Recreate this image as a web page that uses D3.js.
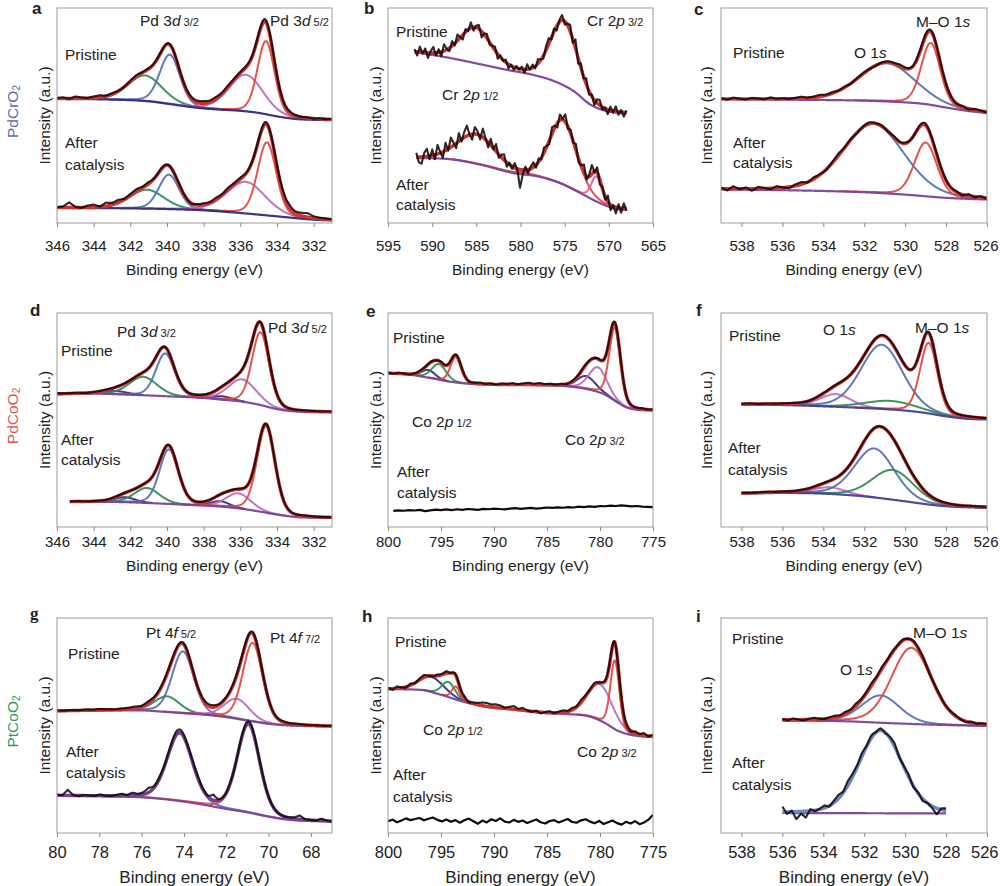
<!DOCTYPE html>
<html><head><meta charset="utf-8">
<script src="https://cdn.jsdelivr.net/npm/d3@7/dist/d3.min.js"></script>
<style>
html,body{margin:0;padding:0;background:#fff;}
text{font-family:"Liberation Sans",Arial,Helvetica,sans-serif;fill:#222;}
</style></head><body>
<svg id="fig" width="1000" height="886"></svg>
<script>
// ---------------- axes / categories ----------------
const domPd3d=[346,331], ticksPd3d=[346,344,342,340,338,336,334,332];
const domCr2p=[595,565], ticksCr2p=[595,590,585,580,575,570,565];
const domO1s=[539,526],  ticksO1s=[538,536,534,532,530,528,526];
const domCo2p=[800,775], ticksCo2p=[800,795,790,785,780,775];
const domPt4f=[80,67],   ticksPt4f=[80,78,76,74,72,70,68];
const rowSamples=["PdCrO","PdCoO","PtCoO"];
const panelLetters=["a","b","c","d","e","f","g","h","i"];
const stateLabels=["Pristine","After","catalysis"];
const xTitle="Binding energy (eV)", yTitle="Intensity (a.u.)";

// peaks: [centre eV, height (a.u., % of frame), FWHM eV]; backgrounds: [eV, a.u.]
// ---- a  PdCrO2 Pd 3d ----
const aPriRange=[346,331];
const aPriBg=[[346,57.7],[343,57.4],[341,56.6],[340,55.5],[339,54.3],[338,53.3],[337,52.7],[336,52.2],[335,51.2],[334,49.6],[333,48.4],[331,47.8]];
const aPriPeaks=[[341.2,11.9,2.2],[339.85,23.0,1.3],[335.7,17.0,2.2],[334.6,34.0,1.1]];
const aPriNoise=[0.2,0.5,-0.2,0.9,0.4,0.1,0.7,1.0,0.3,0.6,0.2,-0.1,0.4,0.6,0.2,0.5,0.3,0.1,0.4,0.2,0.0,0.3,0.6,0.9,1.1,0.8,1.0,0.7,0.9,0.5,0.6,0.8,0.5,0.9,1.2,0.8,0.4,0.2,0.5,0.3,0.1,0.3,-0.1,0.2,0.0,0.2];
const aAftRange=[346,331];
const aAftBg=[[346,7.0],[342,6.8],[340,6.5],[338,5.9],[336,4.65],[334,3.1],[332,1.55],[331,1.2]];
const aAftPeaks=[[341.1,8.8,2.2],[339.9,16.0,1.3],[335.7,14.7,2.5],[334.55,34.0,1.2]];
const aAftNoise=[0.2,0.5,2.4,0.3,-0.2,0.8,1.2,0.1,1.6,0.9,1.3,0.4,0.8,1.1,0.5,0.9,0.2,0.6,0.3,-0.2,0.4,0.1,-0.3,0.5,0.7,0.4,0.9,0.5,1.0,0.6,0.8,0.4,0.2,0.5,1.0,0.4,0.6,1.2,1.6,1.0,1.4,1.9,0.8,0.5,0.3,0.1];
// ---- b  PdCrO2 Cr 2p ----
const bPriRange=[592,568];
const bPriBg=[[591.7,79.3],[588.3,77.0],[584.5,73.8],[581.5,71.2],[578.9,69.2],[576.2,66.0],[574.0,61.4],[572.1,55.1],[570.2,52.0],[568,50.9]];
const bPriPeaks=[[585.1,16.5,4.2],[575.1,30.0,3.6]];
const bPriNoise=[1.2,-1.8,2.5,-0.6,1.9,-2.4,0.8,2.8,-1.2,1.5,-2.0,3.1,0.4,-1.5,2.2,-0.9,2.9,0.3,-2.2,1.4,-0.7,2.6,-1.6,0.9,1.8,-2.8,0.5,2.0,-1.1,0.2,1.6,-2.3,0.8,-0.5,1.3,-1.9,0.6,-1.2,0.9,-0.4,1.1,-1.6,2.3,-0.3,1.5,-1.0,2.1,0.4,-1.3,1.8,2.9,-0.8,1.4,-2.1,0.9,2.4,-1.5,0.6,3.0,-1.7,4.2,-2.6,1.9,-0.9,2.7,-1.8,0.7,-2.4,1.6,2.5,-1.2,0.4,-2.2,1.7,-0.8,2.3,-1.4,0.9,-2.0,1.1];
const bAftRange=[591.8,568];
const bAftBg=[[591.8,30.2],[588.3,29.8],[584.5,27.1],[580.8,23.2],[578.1,21.7],[575.5,18.5],[573.2,13.9],[571.4,10.0],[569.5,6.9],[568,6.1]];
const bAftPeaks=[[585.0,13.6,5.0],[575.2,29.8,3.6],[571.4,11.6,1.4]];
const bAftNoise=[2.0,-2.5,-3.2,1.8,3.5,-1.5,2.8,-2.0,4.2,0.5,-2.8,3.6,-0.8,4.5,1.2,-2.2,3.8,-1.0,2.5,4.8,0.2,-2.6,3.2,1.5,-1.8,4.0,0.8,-2.4,2.9,-0.5,3.4,-1.6,1.2,2.6,-2.0,0.8,-1.2,2.1,-0.6,-8.5,-2.2,1.5,-1.8,0.9,2.2,-1.4,1.6,-0.8,2.4,0.5,-1.6,3.1,1.0,-2.0,2.6,0.2,3.5,-1.1,1.8,-0.6,2.9,-1.8,0.6,3.8,-1.5,1.2,4.2,-0.8,2.5,-2.2,1.0,-1.5,2.8,-2.6,0.4,-3.0,1.6,-2.2,2.4,-1.0];
// ---- c  PdCrO2 O 1s ----
const cPriRange=[539,526];
const cPriBg=[[539,57.6],[535,57.3],[532,56.9],[530,56.1],[529,55.3],[528,53.7],[527,52.2],[526,51.1]];
const cPriPeaks=[[530.9,17.8,3.2],[528.75,28.8,1.1]];
const cPriNoise=[0.3,-0.4,0.6,0.1,-0.3,0.5,0.2,-0.2,0.7,0.1,0.3,-0.1,0.4,0.8,0.2,0.5,0.9,0.3,0.6,0.1,0.4,-0.2,0.3,0.5,0.1,-0.3,0.2,0.6,0.4,0.9,0.5,0.2,0.8,1.1,0.6,0.3,0.5,0.2,-0.2,0.3,-0.4,0.5,0.1,-0.3];
const cAftRange=[539,526];
const cAftBg=[[539,15.6],[535,15.1],[532,14.3],[530,13.2],[528,11.7],[526,10.9]];
const cAftPeaks=[[531.55,32.0,3.5],[529.0,25.0,1.3]];
const cAftNoise=[0.5,-0.8,1.2,-0.3,0.6,-1.0,0.8,0.2,-0.5,0.9,0.1,-0.6,0.7,1.1,-0.2,0.8,0.3,-0.4,0.6,1.0,0.2,0.5,-0.3,0.4,0.7,0.1,0.3,-0.2,0.5,0.2,0.4,-0.1,0.6,0.9,0.3,0.7,0.4,0.1,0.6,-0.5,0.8,-0.3,0.5,-0.6];
// ---- d  PdCoO2 Pd 3d ----
const dPriRange=[346,331];
const dPriBg=[[346,62.1],[344,62.3],[342,61.8],[340,61.1],[338,60.3],[337,59.5],[336,58.7],[335,57.2],[334,55.1],[333,54.0],[331,53.6]];
const dPriPeaks=[[342.8,1.5,1.5],[341.3,8.6,1.8],[340.1,20.0,1.2],[337.0,1.6,1.2],[335.9,10.4,1.8],[334.9,34.0,1.1]];
const dPriNoise=[0.2,0.1,0.3,0.0,0.2,0.3,0.1,0.2,0.0,0.1,0.3,0.2,0.1,0.2,0.0,0.1,0.2,0.3,0.1,0.0,0.2,0.1,0.3,0.2,0.1,0.0,0.2,0.1,0.0,0.1];
const dAftRange=[345.3,331];
const dAftBg=[[345.3,11.7],[343,11.7],[341,11.2],[339,10.4],[337,9.5],[336,8.6],[335,7.3],[334,5.8],[333,4.7],[331,4.2]];
const dAftPeaks=[[342.3,2.3,1.3],[341.1,7.0,1.6],[339.9,25.5,1.2],[337.1,2.5,1.2],[336.1,7.0,1.6],[334.6,40.5,1.15]];
const dAftNoise=[0.1,0.2,0.0,0.2,0.1,0.3,0.1,0.0,0.2,0.1,0.2,0.3,0.1,0.0,0.1,0.2,0.1,0.0,0.2,0.3,0.1,0.2,0.0,0.1,0.2,0.1,0.3,0.1,0.0,0.1];
// ---- e  PdCoO2 Co 2p ----
const ePriRange=[800,775];
const ePriBg=[[800,71.8],[798,71.2],[796,69.6],[794,67.8],[792,66.8],[790,66.5],[785,66.2],[783,65.7],[781,64.2],[779.5,61.8],[778.5,58.7],[777.5,55.9],[776.5,54.8],[775,54.4]];
const ePriPeaks=[[796.2,3.6,1.5],[795.2,7.3,1.6],[793.6,12.0,1.2],[781.3,6.0,2.0],[780.2,11.5,2.0],[778.6,34.0,1.25]];
const ePriNoise=[0.3,-0.2,0.4,0.1,-0.3,0.2,0.5,0.0,0.3,-0.2,0.4,0.2,0.1,0.5,0.2,-0.1,0.3,0.6,0.1,0.4,-0.2,0.5,0.3,0.7,0.2,0.6,0.9,0.4,0.8,0.3,0.5,0.1,0.4,-0.1,0.3,0.2,0.5,0.3,0.1,0.4,0.2,0.6,0.3,0.5,0.2,0.3,0.1,0.4,0.0,0.2];
const eAftRange=[799.5,775];
const eAftData=[7.5,7.8,7.6,7.9,7.7,8.0,7.4,7.8,8.1,7.9,8.2,7.9,8.3,8.0,8.4,8.2,8.0,8.5,8.3,8.6,8.4,8.2,8.6,8.8,8.5,8.7,8.9,8.6,8.8,9.1,8.9,9.2,9.0,9.3,9.1,9.5,9.3,9.6,9.4,9.8,9.7,10.0,9.8,10.1,9.9,9.6,9.8,9.5,9.4,9.3];
// ---- f  PdCoO2 O 1s ----
const fPriRange=[538,526];
const fPriBg=[[538,57.2],[536,57.0],[534,56.4],[532,55.6],[530,54.4],[529,53.3],[528,51.7],[527,50.6],[526,50.2]];
const fPriPeaks=[[533.4,5.9,1.8],[531.15,30.0,2.4],[530.7,4.0,3.0],[528.85,33.0,1.0]];
const fPriNoise=[0.1,0.3,0.0,0.2,0.1,0.2,0.3,0.1,0.0,0.2,0.1,0.3,0.2,0.1,0.2,0.0,0.1,0.3,0.2,0.1,0.0,0.2,0.3,0.1,0.2,0.0,0.1,0.2,0.1,0.0];
const fAftRange=[538,526];
const fAftBg=[[538,15.6],[536,15.9],[534,15.6],[532,14.3],[530,12.0],[529,10.7],[528,9.7],[526,8.9]];
const fAftPeaks=[[533.7,3.1,1.8],[531.5,22.9,2.3],[530.6,13.9,2.4]];
const fAftNoise=[0.2,0.0,0.1,0.3,0.1,0.2,0.0,0.2,0.1,0.3,0.2,0.0,0.1,0.2,0.3,0.1,0.2,0.0,0.1,0.2,0.1,0.3,0.0,0.1,0.2,0.1,0.0,0.2,0.1,0.2];
// ---- g  PtCoO2 Pt 4f ----
const gPriRange=[80,67];
const gPriBg=[[80,56.7],[77,57.0],[76,57.0],[75,56.4],[74,55.7],[73,55.0],[72,53.9],[71,52.3],[70,50.8],[69,50.0],[67,49.5]];
const gPriPeaks=[[74.8,7.3,1.4],[74.05,28.7,1.2],[71.5,9.3,1.4],[70.75,36.5,1.1]];
const gPriNoise=[0.2,0.0,0.3,0.1,0.4,0.2,0.5,0.3,0.1,0.4,0.6,0.9,0.4,1.0,0.5,0.7,0.8,0.4,0.6,0.3,0.2,0.9,1.1,0.5,0.4,0.6,0.8,0.5,0.7,0.3,0.1,0.2,0.4,0.1,0.3,0.2,0.0,0.1,-0.1,0.2];
const gAftRange=[80,67];
const gAftBg=[[80,17.4],[77,16.9],[76,16.6],[75,15.8],[74,14.6],[73,13.0],[72,11.2],[71,9.6],[70,7.6],[69,6.1],[67,5.3]];
const gAftPeaks=[[74.2,31.5,1.4],[70.95,41.0,1.25]];
const gAftNoise=[0.3,0.1,2.6,0.2,-0.3,0.2,0.1,-0.2,0.6,0.0,-0.2,0.4,0.9,0.3,1.3,0.6,1.0,2.2,0.8,0.9,0.5,1.0,1.6,1.4,0.8,0.9,1.2,0.6,0.4,2.6,0.5,0.3,0.4,0.2,0.5,1.0,1.3,0.6,0.4,0.3,0.2,0.1,0.0,0.2,0.6,1.8,0.3,0.1,-0.2,0.9,0.2,-0.4];
// ---- h  PtCoO2 Co 2p ----
const hPriRange=[800,775];
const hPriBg=[[800,66.9],[797,66.6],[795,64.3],[793,61.2],[791,58.9],[788,57.3],[785,55.7],[783,55.3],[781,54.2],[779.5,51.1],[778.5,48.0],[777.5,46.1],[776,44.9],[775,44.6]];
const hPriPeaks=[[795.9,7.0,2.8],[794.3,7.0,1.5],[793.6,6.0,0.9],[780.0,16.8,2.8],[778.6,32.0,1.0]];
const hPriNoise=[0.5,-0.6,0.9,0.2,-0.4,0.8,-0.2,0.6,1.1,0.1,-0.5,0.7,0.3,1.0,-0.2,0.6,0.2,0.9,-0.3,0.4,0.8,1.4,1.6,1.2,1.5,1.2,0.3,0.9,1.5,0.4,1.1,0.2,-0.3,0.5,-0.6,0.2,0.7,-0.2,0.4,0.9,0.3,1.0,0.5,1.3,0.6,0.2,0.8,-0.1,0.5,0.9,0.3,-0.2,0.6,0.4,-0.5,0.8,0.2,1.1,-0.3,0.7];
const hAftRange=[800,775];
const hAftData=[5.5,6.2,5.0,5.8,6.8,6.0,6.5,7.0,5.9,6.6,7.2,6.1,5.4,6.3,5.2,6.0,4.8,5.9,6.7,5.5,4.3,5.8,4.9,6.4,5.6,6.8,5.3,4.9,6.1,5.2,5.8,4.6,5.5,6.3,5.0,4.4,5.6,6.0,4.9,5.7,6.5,5.1,4.8,5.9,6.4,5.3,4.5,5.6,4.2,5.0,5.8,4.6,3.9,5.2,4.4,5.5,4.1,4.9,6.2,8.5];
// ---- i  PtCoO2 O 1s ----
const iPriRange=[536,526];
const iPriBg=[[536,52.3],[533,52.0],[531,51.2],[529,50.5],[527,50.0],[526,49.8]];
const iPriPeaks=[[531.2,12.7,2.2],[529.7,35.4,2.3]];
const iPriNoise=[0.4,-0.3,0.6,0.1,-0.4,0.3,0.7,0.2,-0.2,0.5,0.8,0.3,0.9,0.4,1.2,0.6,0.8,1.3,0.5,1.0,0.3,0.7,0.2,0.5,-0.2,0.4,0.1,0.3,-0.3,0.2,0.5,-0.1,0.3,0.6,0.0,-0.4,0.5,-0.2,0.3,0.1];
const iAftRange=[536,528];
const iAftBg=[[536,9.3],[528,9.1]];
const iAftPeaks=[[531.2,38.5,2.5]];
const iAftNoise=[2.5,-1.0,0.5,-3.5,-1.0,-3.0,0.8,-0.5,0.3,1.2,-0.4,1.0,1.8,0.6,2.2,1.5,0.9,1.7,0.4,1.3,0.2,1.0,-0.4,0.7,1.6,-0.3,0.5,1.2,-0.6,0.4,-1.0,0.2,-0.8,-2.8,0.6,1.0];

// ---------------- layout & style ----------------
const colsX=[[57,332],[388,653],[721,987]];
const rowsY=[[8,223],[313,527],[618,833]];
const tickLabY=[245,541,852], titleY=[269,565,877];
const axisFs=[15,15,16.5], titleFs=[15.5,15.5,17];
const FS=15.5, SMALL=11;
const C={navy:'#2c2d84',purple:'#7c4199',deep:'#4b3d94',blue:'#5070b6',green:'#2e8c52',lilac:'#b46cc2',red:'#e2453d',pink:'#d75aa8',env:'#d0342f',data:'#140909'};
const ETA=0.2;

function pv(t,p){const d=(t-p[0])/p[2];const q=4*d*d;return p[1]*(ETA/(1+q)+(1-ETA)*Math.exp(-Math.LN2*q));}
function mono(pts){
  const p=pts.slice().sort((a,b)=>a[0]-b[0]);const n=p.length;const xs=p.map(d=>d[0]),ys=p.map(d=>d[1]);
  if(n<2)return()=>ys[0];
  const dx=[],m=[];for(let i=0;i<n-1;i++){dx[i]=xs[i+1]-xs[i];m[i]=(ys[i+1]-ys[i])/dx[i];}
  const t=new Array(n);t[0]=m[0];t[n-1]=m[n-2];
  for(let i=1;i<n-1;i++){t[i]=(m[i-1]*m[i]<=0)?0:(m[i-1]+m[i])/2;}
  for(let i=0;i<n-1;i++){if(m[i]===0){t[i]=0;t[i+1]=0;}else{const a=t[i]/m[i],b=t[i+1]/m[i],s=a*a+b*b;if(s>9){const tau=3/Math.sqrt(s);t[i]=tau*a*m[i];t[i+1]=tau*b*m[i];}}}
  return x=>{if(x<=xs[0])return ys[0];if(x>=xs[n-1])return ys[n-1];let i=Math.min(d3.bisectRight(xs,x)-1,n-2);const h=dx[i],s=(x-xs[i])/h;
    const h00=2*s*s*s-3*s*s+1,h10=s*s*s-2*s*s+s,h01=-2*s*s*s+3*s*s,h11=s*s*s-s*s;return h00*ys[i]+h10*h*t[i]+h01*ys[i+1]+h11*h*t[i+1];};
}

const P=(s,x,y)=>({parts:[[s,'']],x,y});
const K=(a,b,c,x,y)=>({parts:[[a,''],[b,'i'],[c,'s']],x,y});
const panels=[
 {dom:domPd3d,ticks:ticksPd3d,bgc:C.navy,spectra:[
   {range:aPriRange,bg:aPriBg,peaks:aPriPeaks,cols:['green','blue','lilac','red'],noise:aPriNoise},
   {range:aAftRange,bg:aAftBg,peaks:aAftPeaks,cols:['green','blue','lilac','red'],noise:aAftNoise}],
  notes:[P(stateLabels[0],65,55),P(stateLabels[1],65,143),P(stateLabels[2],65,165),K('Pd 3','d',' 3/2',140,21),K('Pd 3','d',' 5/2',270,21)]},
 {dom:domCr2p,ticks:ticksCr2p,bgc:C.purple,spectra:[
   {range:bPriRange,bg:bPriBg,peaks:bPriPeaks,cols:['red','red'],noise:bPriNoise,noComp:true},
   {range:bAftRange,bg:bAftBg,peaks:bAftPeaks,cols:['red','red','pink'],noise:bAftNoise}],
  notes:[P(stateLabels[0],396,32),P(stateLabels[1],396,185),P(stateLabels[2],396,205),K('Cr 2','p',' 3/2',587,21),K('Cr 2','p',' 1/2',442,95)]},
 {dom:domO1s,ticks:ticksO1s,bgc:C.purple,spectra:[
   {range:cPriRange,bg:cPriBg,peaks:cPriPeaks,cols:['blue','red'],noise:cPriNoise},
   {range:cAftRange,bg:cAftBg,peaks:cAftPeaks,cols:['blue','red'],noise:cAftNoise}],
  notes:[P(stateLabels[0],733,53),P(stateLabels[1],733,143),P(stateLabels[2],733,163),K('O 1','s','',854,53),K('M–O 1','s','',916,22)]},
 {dom:domPd3d,ticks:ticksPd3d,bgc:C.purple,spectra:[
   {range:dPriRange,bg:dPriBg,peaks:dPriPeaks,cols:['navy','green','blue','navy','lilac','red'],noise:dPriNoise},
   {range:dAftRange,bg:dAftBg,peaks:dAftPeaks,cols:['navy','green','blue','navy','lilac','red'],noise:dAftNoise}],
  notes:[P(stateLabels[0],61,351),P(stateLabels[1],61,440),P(stateLabels[2],61,460),K('Pd 3','d',' 3/2',117,332),K('Pd 3','d',' 5/2',268,328)]},
 {dom:domCo2p,ticks:ticksCo2p,bgc:C.purple,spectra:[
   {range:ePriRange,bg:ePriBg,peaks:ePriPeaks,cols:['navy','green','red','navy','lilac','red'],noise:ePriNoise},
   {range:eAftRange,data:eAftData}],
  notes:[P(stateLabels[0],393,338),P(stateLabels[1],397,472),P(stateLabels[2],397,493),K('Co 2','p',' 1/2',412,422),K('Co 2','p',' 3/2',565,440)]},
 {dom:domO1s,ticks:ticksO1s,bgc:C.deep,spectra:[
   {range:fPriRange,bg:fPriBg,peaks:fPriPeaks,cols:['lilac','blue','green','red'],noise:fPriNoise},
   {range:fAftRange,bg:fAftBg,peaks:fAftPeaks,cols:['lilac','blue','green'],noise:fAftNoise}],
  notes:[P(stateLabels[0],729,336),P(stateLabels[1],728,448),P(stateLabels[2],728,470),K('O 1','s','',823,330),K('M–O 1','s','',915,328)]},
 {dom:domPt4f,ticks:ticksPt4f,bgc:C.purple,spectra:[
   {range:gPriRange,bg:gPriBg,peaks:gPriPeaks,cols:['green','blue','lilac','red'],noise:gPriNoise},
   {range:gAftRange,bg:gAftBg,peaks:gAftPeaks,cols:['blue','red'],noise:gAftNoise,env:'#74408f'}],
  notes:[P(stateLabels[0],68,654),P(stateLabels[1],66,752),P(stateLabels[2],66,773),K('Pt 4','f',' 5/2',146,633),K('Pt 4','f',' 7/2',270,638)]},
 {dom:domCo2p,ticks:ticksCo2p,bgc:C.purple,spectra:[
   {range:hPriRange,bg:hPriBg,peaks:hPriPeaks,cols:['navy','green','red','lilac','red'],noise:hPriNoise},
   {range:hAftRange,data:hAftData}],
  notes:[P(stateLabels[0],395,642),P(stateLabels[1],393,775),P(stateLabels[2],393,797),K('Co 2','p',' 1/2',423,730),K('Co 2','p',' 3/2',577,752)]},
 {dom:domO1s,ticks:ticksO1s,bgc:C.purple,spectra:[
   {range:iPriRange,bg:iPriBg,peaks:iPriPeaks,cols:['blue','red'],noise:iPriNoise},
   {range:iAftRange,bg:iAftBg,peaks:iAftPeaks,cols:['blue'],noise:iAftNoise,noComp:true,env:'#6a88c9'}],
  notes:[P(stateLabels[0],732,639),P(stateLabels[1],732,763),P(stateLabels[2],732,785),K('O 1','s','',840,670),K('M–O 1','s','',913,633)]}
];
const letterPos=[[32,14],[364,14],[694,15],[30,316],[366,317],[696,316],[30,619],[362,622],[696,622]];
const rowLabelColors=['#5a6bb2','#e0574d','#2f9a5c'];
const intensityX=[44,375,706];

const svg=d3.select('#fig');
const defs=svg.append('defs');

function richText(g,parts,x,yc,size){
  const t=g.append('text').attr('x',x).attr('y',yc+size*0.35).attr('font-size',size);
  parts.forEach(([s,st])=>{if(!s)return;const ts=t.append('tspan').text(s);
    if(st==='i')ts.attr('font-style','italic');
    if(st==='s')ts.attr('font-size',SMALL);});
  return t;
}

panels.forEach((pn,k)=>{
  const r=Math.floor(k/3),c=k%3;
  const [x0,x1]=colsX[c],[y0,y1]=rowsY[r];
  const x=d3.scaleLinear().domain(pn.dom).range([x0,x1]);
  const y=d3.scaleLinear().domain([0,100]).range([y1,y0]);
  const g=svg.append('g');
  const cid='clip'+k;
  defs.append('clipPath').attr('id',cid).append('rect').attr('x',x0).attr('y',y0).attr('width',x1-x0).attr('height',y1-y0);
  const plot=g.append('g').attr('clip-path',`url(#${cid})`);
  const line=d3.line().x(d=>x(d[0])).y(d=>y(d[1]));

  pn.spectra.forEach(s=>{
    const [r0,r1]=s.range;const lo=Math.min(r0,r1),hi=Math.max(r0,r1);
    if(s.data){
      const pts=s.data.map((v,i)=>[r0+(r1-r0)*i/(s.data.length-1),v]);
      plot.append('path').datum(pts).attr('d',line).attr('fill','none').attr('stroke',C.data).attr('stroke-width',2.2).attr('stroke-linejoin','round');
      return;
    }
    const bgF=mono(s.bg);
    const grid=d3.range(0,601).map(i=>lo+(hi-lo)*i/600);
    const env=t=>bgF(t)+d3.sum(s.peaks,p=>pv(t,p));
    if(!s.noComp){
      s.peaks.forEach((p,j)=>{
        const pts=grid.map(t=>[t,bgF(t)+pv(t,p),pv(t,p)]);
        plot.append('path').datum(pts).attr('d',d3.line().defined(d=>d[2]>0.12).x(d=>x(d[0])).y(d=>y(d[1])))
          .attr('fill','none').attr('stroke',C[s.cols[j]]).attr('stroke-width',2).attr('opacity',0.92);
      });
    }
    plot.append('path').datum(grid.map(t=>[t,bgF(t)])).attr('d',line).attr('fill','none').attr('stroke',pn.bgc).attr('stroke-width',2.2).attr('opacity',0.95);
    plot.append('path').datum(grid.map(t=>[t,env(t)])).attr('d',line).attr('fill','none').attr('stroke',s.env||C.env).attr('stroke-width',3.4);
    const n=s.noise.length;
    const nPts=s.noise.map((v,i)=>[r0+(r1-r0)*i/(n-1),v]).sort((a,b)=>a[0]-b[0]);
    const nF=d3.scaleLinear().domain(nPts.map(d=>d[0])).range(nPts.map(d=>d[1])).clamp(true);
    const dg=Array.from(new Set(grid.concat(nPts.map(d=>d[0])))).sort((a,b)=>a-b);
    plot.append('path').datum(dg.map(t=>[t,env(t)+nF(t)])).attr('d',line).attr('fill','none').attr('stroke',C.data).attr('stroke-width',2.1).attr('opacity',0.88).attr('stroke-linejoin','round');
  });

  // frame
  g.append('rect').attr('x',x0).attr('y',y0).attr('width',x1-x0).attr('height',y1-y0).attr('fill','none').attr('stroke','#9c9c9c').attr('stroke-width',1);
  // axis
  const ax=g.append('g').attr('transform',`translate(0,${y1})`).call(d3.axisBottom(x).tickValues(pn.ticks).tickSize(4).tickFormat(d3.format('d')));
  ax.select('.domain').remove();
  ax.selectAll('.tick line').attr('stroke','#8a8a8a');
  ax.selectAll('.tick text').attr('y',tickLabY[r]-y1).attr('dy',null).attr('dominant-baseline','central').attr('font-size',axisFs[r]).attr('fill','#222');
  // keep edge labels inside the 1000px canvas
  ax.selectAll('.tick').each(function(d){
    const tx=x(d), w=this.querySelector('text').getComputedTextLength();
    if(tx+w/2>998) d3.select(this).select('text').attr('x',998-w/2-tx);
  });
  g.append('text').attr('x',(x0+x1)/2).attr('y',titleY[r]).attr('text-anchor','middle').attr('dominant-baseline','central').attr('font-size',titleFs[r]).text(xTitle);
  g.append('text').attr('transform',`translate(${intensityX[c]},${(y0+y1)/2}) rotate(-90)`).attr('text-anchor','middle').attr('dominant-baseline','central').attr('font-size',FS).text(yTitle);
  // letter
  g.append('text').attr('x',letterPos[k][0]).attr('y',letterPos[k][1]).attr('font-size',17).attr('font-weight','bold')
    .style('font-family',k===6?'"Liberation Serif",serif':null).text(panelLetters[k]);
  // notes
  pn.notes.forEach(nt=>richText(g,nt.parts,nt.x,nt.y,FS));
});

// row labels
rowSamples.forEach((s,r)=>{
  const cy=(rowsY[r][0]+rowsY[r][1])/2-4;
  const t=svg.append('text').attr('transform',`translate(12,${cy}) rotate(-90)`).attr('text-anchor','middle').attr('dominant-baseline','central').attr('font-size',FS).style('fill',rowLabelColors[r]);
  t.append('tspan').text(s);
  t.append('tspan').attr('font-size',10).attr('dy',4).text('2');
});
</script>
</body></html>
